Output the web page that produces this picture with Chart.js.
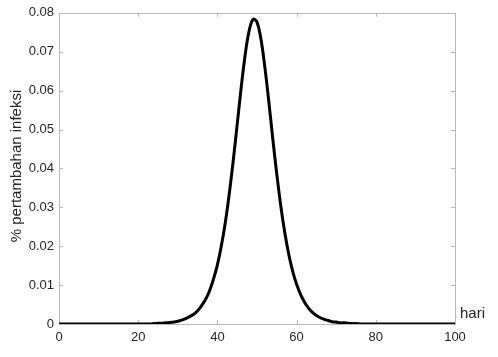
<!DOCTYPE html>
<html>
<head>
<meta charset="utf-8">
<script src="https://cdn.jsdelivr.net/npm/chart.js@4"></script>
<style>
  html, body { margin: 0; padding: 0; background: #fff; }
  #wrap { width: 498px; height: 357px; position: relative; }
</style>
</head>
<body>
<div id="wrap"><canvas id="chart"></canvas></div>
<script>
// hari ke- (0..100)
var days = [];
for (var d = 0; d <= 100; d++) days.push(d);

// % pertambahan infeksi
var growth = [
  0, 0, 0, 0, 0, 0, 0, 0, 0, 0,
  0, 0, 0, 0, 0, 0, 0, 0, 0, 0,
  0, 0, 0, 0, 0.0001, 0.0002, 0.0002, 0.0003, 0.0004, 0.0005,
  0.0007, 0.0010, 0.0014, 0.0019, 0.0025, 0.0034, 0.0047, 0.0063, 0.0085, 0.0115,
  0.0152, 0.0201, 0.0261, 0.0335, 0.0420, 0.0513, 0.0607, 0.0691, 0.0753, 0.0783,
  0.0776, 0.0732, 0.0659, 0.0570, 0.0475, 0.0385, 0.0304, 0.0236, 0.0180, 0.0136,
  0.0102, 0.0076, 0.0056, 0.0041, 0.0030, 0.0022, 0.0016, 0.0012, 0.0009, 0.0006,
  0.0005, 0.0003, 0.0003, 0.0002, 0.0001, 0.0001, 0, 0, 0, 0,
  0, 0, 0, 0, 0, 0, 0, 0, 0, 0,
  0, 0, 0, 0, 0, 0, 0, 0, 0, 0,
  0
];

var xTicks = [0, 20, 40, 60, 80, 100];
var yTicks = [0, 0.01, 0.02, 0.03, 0.04, 0.05, 0.06, 0.07, 0.08];
var xLabel = 'hari';
var yLabel = '% pertambahan infeksi';

var FONT = '"Liberation Sans", Arial, sans-serif';
var TEXT = '#262626';
var AXIS = '#b8b8b8';

// box around the plot with inward ticks (matlab look) + axis labels
var boxPlugin = {
  id: 'box',
  beforeDatasetsDraw: function (chart) {
    var c = chart.ctx, a = chart.chartArea;
    var xs = chart.scales.x, ys = chart.scales.y;
    c.save();
    c.strokeStyle = AXIS;
    c.lineWidth = 1;
    c.strokeRect(Math.round(a.left) + 0.5, Math.round(a.top) + 0.5,
                 Math.round(a.right - a.left), Math.round(a.bottom - a.top));
    c.beginPath();
    xTicks.forEach(function (v) {
      var px = Math.round(xs.getPixelForValue(v)) + 0.5;
      c.moveTo(px, a.bottom); c.lineTo(px, a.bottom - 4);
      c.moveTo(px, a.top); c.lineTo(px, a.top + 4);
    });
    yTicks.forEach(function (v) {
      var py = Math.round(ys.getPixelForValue(v)) + 0.5;
      c.moveTo(a.left, py); c.lineTo(a.left + 4, py);
      c.moveTo(a.right, py); c.lineTo(a.right - 4, py);
    });
    c.stroke();
    c.restore();
  },
  afterDraw: function (chart) {
    var c = chart.ctx, a = chart.chartArea;
    c.save();
    c.fillStyle = TEXT;
    c.font = '15px ' + FONT;
    c.textAlign = 'left';
    c.textBaseline = 'middle';
    c.fillText(xLabel, a.right + 5, a.bottom - 10);
    c.translate(17, 166);
    c.rotate(-Math.PI / 2);
    c.textAlign = 'center';
    c.fillText(yLabel, 0, 0);
    c.restore();
  }
};

new Chart(document.getElementById('chart'), {
  type: 'line',
  data: {
    datasets: [{
      data: days.map(function (d, i) { return { x: d, y: growth[i] }; }),
      borderColor: '#000',
      borderWidth: 3,
      pointRadius: 0,
      fill: false,
      tension: 0.4
    }]
  },
  options: {
    responsive: true,
    maintainAspectRatio: false,
    animation: false,
    layout: { padding: { left: 0, top: 12, right: 43, bottom: 0 } },
    plugins: { legend: { display: false }, tooltip: { enabled: false } },
    scales: {
      x: {
        type: 'linear',
        min: 0, max: 100,
        border: { display: false },
        grid: { display: false, drawTicks: false },
        afterBuildTicks: function (s) { s.ticks = xTicks.map(function (v) { return { value: v }; }); },
        afterFit: function (s) { s.height = 33; },
        ticks: { padding: 6, color: TEXT, font: { family: FONT, size: 13 }, maxRotation: 0 }
      },
      y: {
        min: 0, max: 0.08,
        border: { display: false },
        grid: { display: false, drawTicks: false },
        afterBuildTicks: function (s) { s.ticks = yTicks.map(function (v) { return { value: v }; }); },
        afterFit: function (s) { s.width = 59; },
        ticks: {
          padding: 5, color: TEXT, font: { family: FONT, size: 13 },
          callback: function (v) { return v === 0 ? '0' : v.toFixed(2); }
        }
      }
    }
  },
  plugins: [boxPlugin]
});
</script>
</body>
</html>
